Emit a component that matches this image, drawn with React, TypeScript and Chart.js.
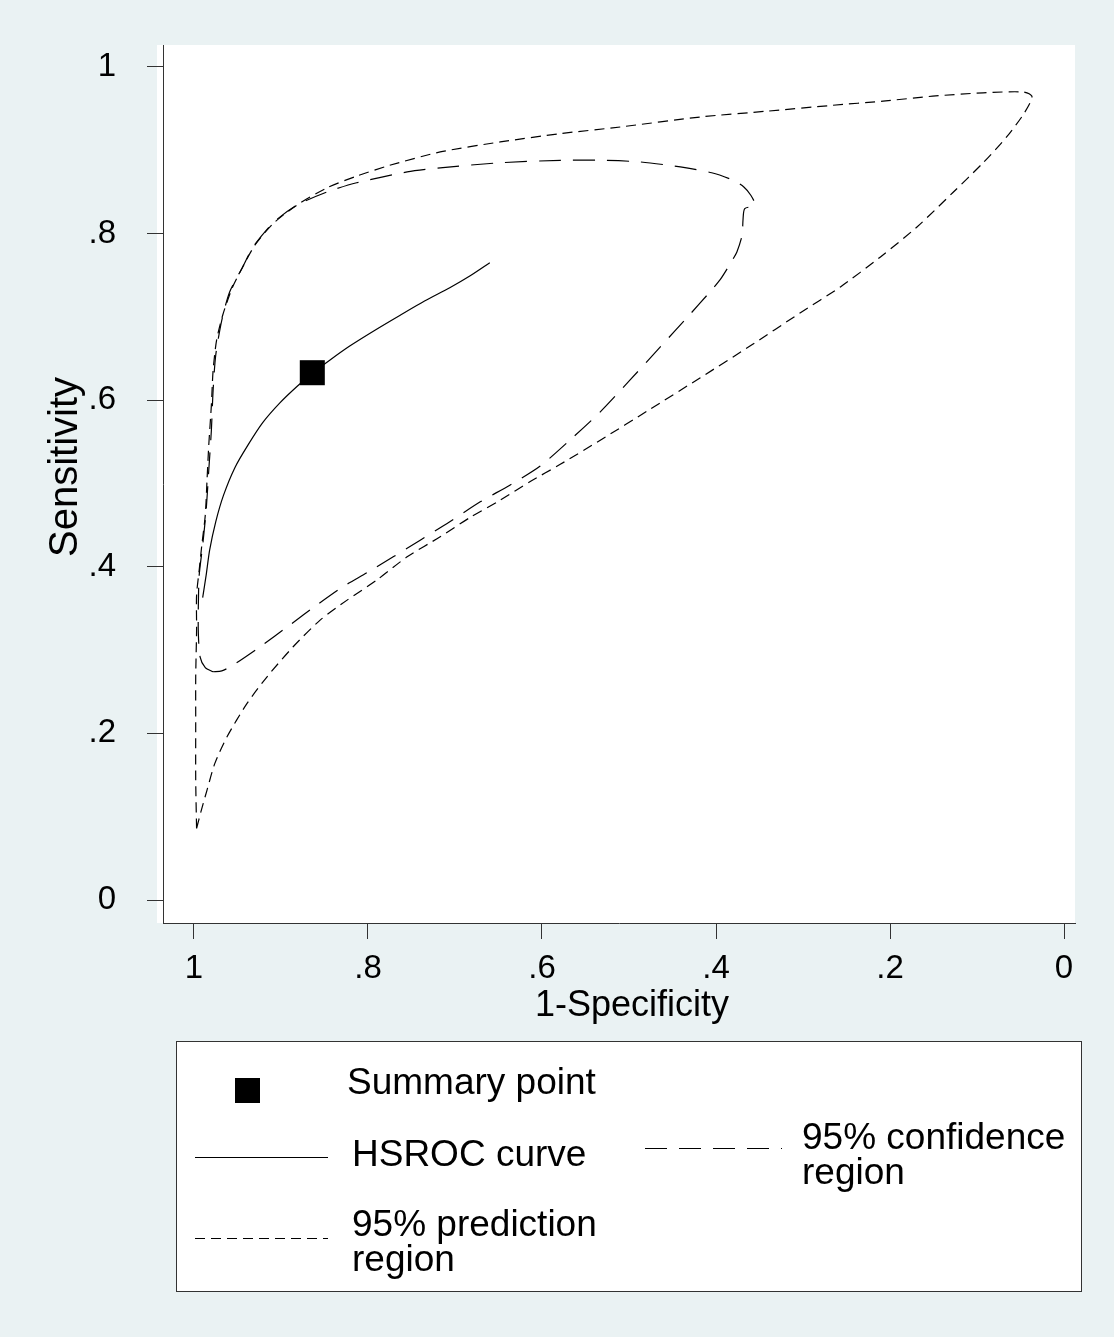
import React, { useEffect, useRef } from "react";
import { Chart, registerables } from "chart.js";

Chart.register(...registerables);

// ---------- data ----------
const tickValues = [0, 0.2, 0.4, 0.6, 0.8, 1];
const tickLabels = ["0", ".2", ".4", ".6", ".8", "1"];
const xTitle = "1-Specificity";
const yTitle = "Sensitivity";

const summaryX = [0.864];
const summaryY = [0.633];

const hsrocX = [0.990, 0.986, 0.982, 0.975, 0.966, 0.953, 0.938, 0.921, 0.901, 0.881, 0.863, 0.844, 0.821, 0.792, 0.763, 0.735, 0.706, 0.683, 0.660];
const hsrocY = [0.363, 0.390, 0.420, 0.454, 0.486, 0.519, 0.546, 0.573, 0.597, 0.617, 0.633, 0.648, 0.665, 0.684, 0.702, 0.719, 0.735, 0.749, 0.765];

const confX = [0.978, 0.987, 0.993, 0.995, 0.995, 0.994, 0.990, 0.986, 0.983, 0.980, 0.978, 0.975, 0.968, 0.959, 0.944, 0.932, 0.909, 0.882, 0.847, 0.813, 0.755, 0.717, 0.648, 0.579, 0.533, 0.487, 0.441, 0.405, 0.380, 0.368, 0.360, 0.355, 0.367, 0.369, 0.370, 0.376, 0.383, 0.395, 0.407, 0.430, 0.464, 0.499, 0.533, 0.568, 0.602, 0.637, 0.671, 0.706, 0.740, 0.771, 0.801, 0.829, 0.859, 0.890, 0.924, 0.955, 0.968, 0.978];
const confY = [0.274, 0.279, 0.292, 0.321, 0.352, 0.390, 0.426, 0.468, 0.516, 0.564, 0.612, 0.654, 0.696, 0.730, 0.760, 0.784, 0.813, 0.834, 0.850, 0.861, 0.874, 0.879, 0.885, 0.888, 0.888, 0.886, 0.880, 0.873, 0.864, 0.856, 0.846, 0.834, 0.830, 0.816, 0.798, 0.778, 0.765, 0.745, 0.730, 0.703, 0.664, 0.624, 0.586, 0.552, 0.521, 0.498, 0.478, 0.454, 0.432, 0.412, 0.393, 0.376, 0.354, 0.330, 0.304, 0.282, 0.275, 0.274];

const predX = [0.997, 0.998, 0.998, 0.998, 0.997, 0.997, 0.994, 0.991, 0.987, 0.985, 0.983, 0.980, 0.978, 0.974, 0.967, 0.956, 0.944, 0.930, 0.909, 0.882, 0.847, 0.813, 0.775, 0.717, 0.648, 0.579, 0.510, 0.418, 0.341, 0.266, 0.208, 0.151, 0.093, 0.047, 0.037, 0.039, 0.048, 0.066, 0.093, 0.128, 0.169, 0.211, 0.257, 0.303, 0.361, 0.418, 0.476, 0.533, 0.579, 0.614, 0.648, 0.683, 0.717, 0.755, 0.790, 0.824, 0.855, 0.886, 0.916, 0.939, 0.962, 0.976, 0.985, 0.992, 0.997];
const predY = [0.086, 0.144, 0.216, 0.268, 0.324, 0.366, 0.396, 0.426, 0.462, 0.504, 0.546, 0.594, 0.636, 0.672, 0.702, 0.735, 0.760, 0.786, 0.812, 0.834, 0.855, 0.869, 0.882, 0.898, 0.910, 0.920, 0.928, 0.940, 0.947, 0.954, 0.959, 0.965, 0.969, 0.970, 0.965, 0.957, 0.941, 0.916, 0.885, 0.849, 0.808, 0.772, 0.736, 0.705, 0.665, 0.627, 0.589, 0.552, 0.523, 0.502, 0.480, 0.459, 0.436, 0.412, 0.384, 0.360, 0.336, 0.304, 0.268, 0.236, 0.196, 0.164, 0.132, 0.106, 0.086];

const legendSummary = ["Summary point"];
const legendHsroc = ["HSROC curve"];
const legendConf = ["95% confidence", "region"];
const legendPred = ["95% prediction", "region"];

// ---------- styles ----------
const FONT = '"Liberation Sans", Arial, Helvetica, sans-serif';
const BG = "#eaf2f3";
const CONF_DASH = [22, 12];
const PRED_DASH = [10, 6];

const zip = (xs: number[], ys: number[]) => xs.map((x, i) => ({ x, y: ys[i] }));

function drawText(ctx: CanvasRenderingContext2D, text: string, x: number, y: number, size: number, align: CanvasTextAlign = "left") {
  ctx.save();
  ctx.font = `${size}px ${FONT}`;
  ctx.textAlign = align;
  ctx.textBaseline = "alphabetic";
  ctx.fillStyle = "#000";
  ctx.fillText(text, x, y);
  ctx.restore();
}

const decorPlugin = {
  id: "decor",
  beforeDraw(chart: any) {
    const { ctx, chartArea } = chart;
    ctx.save();
    ctx.fillStyle = BG;
    ctx.fillRect(0, 0, chart.width, chart.height);
    ctx.fillStyle = "#ffffff";
    ctx.fillRect(chartArea.left - 6, chartArea.top, chartArea.right - chartArea.left + 6, chartArea.bottom - chartArea.top);
    ctx.restore();
  },
  afterDraw(chart: any) {
    const { ctx } = chart;
    // axis titles
    drawText(ctx, xTitle, 632, 1016, 36, "center");
    ctx.save();
    ctx.translate(77, 467);
    ctx.rotate(-Math.PI / 2);
    ctx.font = `40px ${FONT}`;
    ctx.textAlign = "center";
    ctx.textBaseline = "alphabetic";
    ctx.fillStyle = "#000";
    ctx.fillText(yTitle, 0, 0);
    ctx.restore();

    // legend box
    ctx.save();
    ctx.fillStyle = "#ffffff";
    ctx.fillRect(176.5, 1041.5, 905, 250);
    ctx.strokeStyle = "#333";
    ctx.lineWidth = 1;
    ctx.strokeRect(176.5, 1041.5, 905, 250);

    // summary marker
    ctx.fillStyle = "#000";
    ctx.fillRect(235, 1078, 25, 25);

    ctx.strokeStyle = "#000";
    ctx.lineWidth = 1.2;
    ctx.setLineDash([]);
    ctx.beginPath();
    ctx.moveTo(195, 1157.5);
    ctx.lineTo(328, 1157.5);
    ctx.stroke();
    ctx.setLineDash(CONF_DASH);
    ctx.beginPath();
    ctx.moveTo(645, 1148.5);
    ctx.lineTo(782, 1148.5);
    ctx.stroke();
    ctx.setLineDash(PRED_DASH);
    ctx.beginPath();
    ctx.moveTo(195, 1238.5);
    ctx.lineTo(328, 1238.5);
    ctx.stroke();
    ctx.restore();

    const LS = 37;
    const LH = 35;
    legendSummary.forEach((t, i) => drawText(ctx, t, 347, 1094 + i * LH, LS));
    legendHsroc.forEach((t, i) => drawText(ctx, t, 352, 1166 + i * LH, LS));
    legendConf.forEach((t, i) => drawText(ctx, t, 802, 1149 + i * LH, LS));
    legendPred.forEach((t, i) => drawText(ctx, t, 352, 1236 + i * LH, LS));
  },
};

const setTicks = (scale: any) => {
  scale.ticks = tickValues.map((v) => ({ value: v }));
};
const fmt = (value: number) => {
  let best = 0;
  tickValues.forEach((v, i) => {
    if (Math.abs(v - value) < Math.abs(tickValues[best] - value)) best = i;
  });
  return tickLabels[best];
};

export default function App() {
  const ref = useRef<HTMLCanvasElement | null>(null);

  useEffect(() => {
    if (!ref.current) return;
    const lineBase = {
      showLine: true,
      fill: false,
      pointRadius: 0,
      pointHoverRadius: 0,
      borderColor: "#000",
      borderWidth: 1.2,
      tension: 0.25,
    };
    const chart = new Chart(ref.current, {
      type: "scatter",
      data: {
        datasets: [
          {
            label: legendSummary.join(" "),
            data: zip(summaryX, summaryY),
            pointStyle: "rect",
            pointRadius: 17.7,
            backgroundColor: "#000",
            borderColor: "#000",
            borderWidth: 0,
            showLine: false,
          } as any,
          { ...lineBase, label: legendHsroc.join(" "), data: zip(hsrocX, hsrocY) } as any,
          { ...lineBase, label: legendConf.join(" "), data: zip(confX, confY), borderDash: CONF_DASH } as any,
          { ...lineBase, label: legendPred.join(" "), data: zip(predX, predY), borderDash: PRED_DASH } as any,
        ],
      },
      options: {
        animation: false,
        responsive: false,
        maintainAspectRatio: false,
        layout: { padding: { top: 45, right: 39, bottom: 0, left: 0 } },
        plugins: {
          legend: { display: false },
          tooltip: { enabled: false },
          title: { display: false },
        },
        scales: {
          x: {
            type: "linear",
            reverse: true,
            min: -0.0126,
            max: 1.0356,
            afterBuildTicks: setTicks,
            afterFit: (s: any) => {
              s.height = 414;
              s.paddingLeft = 0;
              s.paddingRight = 0;
            },
            grid: { display: true, drawOnChartArea: false, drawTicks: true, tickLength: 16, color: "#333", lineWidth: 1 },
            border: { display: true, color: "#333", width: 1 },
            ticks: { callback: (v: any) => fmt(Number(v)), padding: 10, color: "#000", font: { family: FONT, size: 33 }, maxRotation: 0, autoSkip: false },
          },
          y: {
            type: "linear",
            min: -0.0276,
            max: 1.0264,
            afterBuildTicks: setTicks,
            afterFit: (s: any) => {
              s.width = 163;
              s.paddingTop = 0;
              s.paddingBottom = 0;
            },
            grid: { display: true, drawOnChartArea: false, drawTicks: true, tickLength: 16, color: "#333", lineWidth: 1 },
            border: { display: true, color: "#333", width: 1 },
            ticks: { callback: (v: any) => fmt(Number(v)), padding: 31, color: "#000", font: { family: FONT, size: 33 }, autoSkip: false },
          },
        },
      },
      plugins: [decorPlugin],
    } as any);
    return () => chart.destroy();
  }, []);

  return (
    <div style={{ position: "absolute", left: 0, top: 0, width: 1114, height: 1337, background: BG }}>
      <canvas ref={ref} width={1114} height={1337} style={{ display: "block", width: 1114, height: 1337 }} />
    </div>
  );
}
